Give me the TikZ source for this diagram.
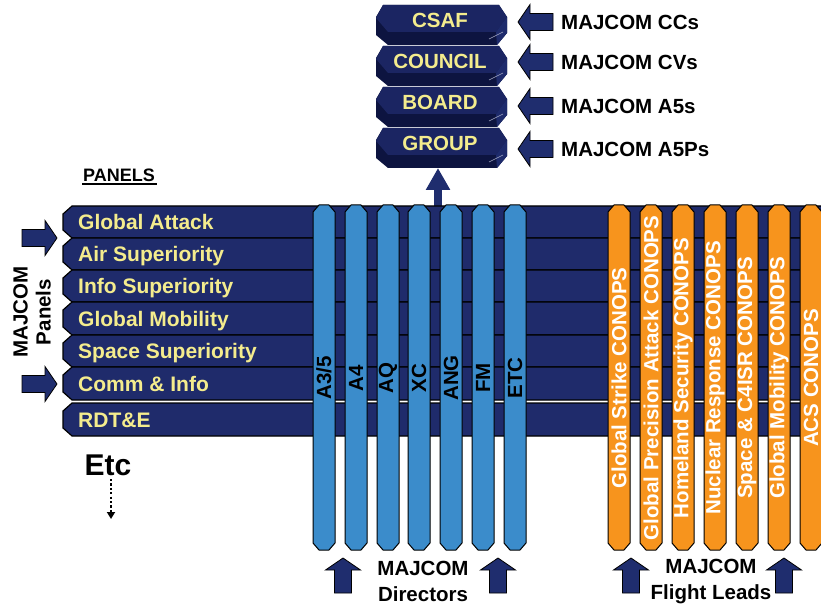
\documentclass[tikz,border=0pt]{standalone}
\usepackage{fontspec}
\setmainfont{Liberation Sans}
\usetikzlibrary{arrows.meta}
\definecolor{navy}{HTML}{1F2B6B}
\definecolor{anavy}{HTML}{1F2D6E}
\definecolor{boxdark}{HTML}{0D1440}
\definecolor{boxtop}{HTML}{1B2562}
\definecolor{boxside}{HTML}{1E2B6C}
\definecolor{lblue}{HTML}{3B8CCB}
\definecolor{orng}{HTML}{F7941D}
\definecolor{ylw}{HTML}{F4EC8D}
\tikzset{
  rowshape/.style={fill=navy, draw=black, line width=1.2pt},
  rowtxt/.style={text=ylw, font=\fontsize{21}{24}\selectfont\bfseries, anchor=base west, inner sep=0pt},
  bluebar/.style={fill=lblue, draw=black, line width=1pt},
  orgbar/.style={fill=orng, draw=black, line width=1pt},
  barlbl/.style={rotate=90, font=\fontsize{20.5}{24}\selectfont\bfseries, inner sep=0pt},
  boxlbl/.style={text=ylw, font=\fontsize{20.5}{24}\selectfont\bfseries, inner sep=0pt},
  blktxt/.style={text=black, font=\fontsize{20.5}{26}\selectfont\bfseries, inner sep=0pt},
  blk/.style={fill=anavy, draw=black, line width=0.8pt},
  blockarrow/.pic={\path[blk] (0,-8.5)--(23,-8.5)--(23,-17.5)--(35,0)--(23,17.5)--(23,8.5)--(0,8.5)--cycle;}
}
\newcommand\bbar[4]{% x, name, text, style
  \path[#4] (#1+6,205)--(#1+16,205)--(#1+22,212)--(#1+22,543)--(#1+16,550)--(#1+6,550)--(#1,543)--(#1,212)--cycle;
  \node[barlbl] (#2) at (#1+11,378) {#3};}
\newcommand\tbox[3]{% top, name, text
  \path[fill=boxdark] (383,#1)--(499,#1)--(507,#1+12)--(507,#1+28)--(497,#1+40)--(388,#1+40)--(376,#1+30)--(376,#1+12)--cycle;
  \path[fill=boxtop] (383,#1)--(499,#1)--(507,#1+12)--(496,#1+27)--(388,#1+27)--(376,#1+13)--cycle;
  \path[fill=boxside] (496,#1+27)--(507,#1+12)--(507,#1+28)--(497,#1+40)--cycle;
  \draw[white!60!boxside, line width=0.6pt] (489,#1+34)--(503,#1+27);
  \node[boxlbl] (#2) at (440,#1+15) {#3};}
\begin{document}
\begin{tikzpicture}[x=1pt,y=-1pt]
\useasboundingbox (0,0) rectangle (821,612);
\clip (0,0) rectangle (821,612);

% top boxes
\tbox{5}{csaf}{CSAF}
\tbox{46}{council}{COUNCIL}
\tbox{87}{board}{BOARD}
\tbox{128}{group}{GROUP}
\coordinate (groupbot) at (438,168);
\coordinate (rowtop) at (438,206);
\draw[anavy, line width=8pt, -{Triangle[width=23pt,length=22pt]}] (rowtop) -- (groupbot);

% right arrows and labels
\foreach \y/\n/\t in {22/cc/MAJCOM CCs, 62/cv/MAJCOM CVs, 106/afive/MAJCOM A5s, 149/afivep/MAJCOM A5Ps}{
  \pic[rotate=180] at (553,\y) {blockarrow};
  \node[blktxt, anchor=west] (\n) at (561,\y) {\t};
}

% PANELS
\node[font=\fontsize{18}{20}\selectfont\bfseries, inner sep=0pt] (panels) at (119,175) {PANELS};
\draw[line width=1.6pt] (82,184) -- (157,184);

% rows
\foreach \t/\b/\txt/\n in {206/238/Global Attack/r1, 238/270/Air Superiority/r2, 270/302/Info Superiority/r3, 302/335/Global Mobility/r4, 335/367/Space Superiority/r5, 367/400/Comm \& Info/r6, 403/436/RDT\&E/r7}{
  \path[rowshape] (72,\t) -- (830,\t) -- (830,\b) -- (72,\b) -- (63,\b-8) -- (63,\t+8) -- cycle;
  \node[rowtxt] (\n) at (78,{(\t+\b)/2+7.5}) {\txt};
}

% left arrows and label
\pic at (22,238) {blockarrow};
\pic at (22,384) {blockarrow};
\node[blktxt, rotate=90, align=center, font=\fontsize{20.5}{23}\selectfont\bfseries] (mpanels) at (32,312) {MAJCOM\\Panels};

% Etc
\node[font=\fontsize{30}{32}\selectfont\bfseries, inner sep=0pt] (etc) at (108,465) {Etc};
\coordinate (etcend) at (111,519);
\draw[line width=2.2pt, dash pattern=on 2.2pt off 2.2pt, -{Triangle[width=8pt,length=7pt]}] (111,479) -- (etcend);

% blue bars
\bbar{313}{a35}{A3/5}{bluebar}
\bbar{345}{a4}{A4}{bluebar}
\bbar{377}{aq}{AQ}{bluebar}
\bbar{408}{xc}{XC}{bluebar}
\bbar{440}{ang}{ANG}{bluebar}
\bbar{472}{fm}{FM}{bluebar}
\bbar{504}{etcb}{ETC}{bluebar}

% orange bars
\bbar{608}{o1}{\textcolor{white}{Global Strike CONOPS}}{orgbar}
\bbar{640}{o2}{\textcolor{white}{Global Precision Attack CONOPS}}{orgbar}
\bbar{672}{o3}{\textcolor{white}{Homeland Security CONOPS}}{orgbar}
\bbar{704}{o4}{\textcolor{white}{Nuclear Response CONOPS}}{orgbar}
\bbar{736}{o5}{\textcolor{white}{Space \& C4ISR CONOPS}}{orgbar}
\bbar{768}{o6}{\textcolor{white}{Global Mobility CONOPS}}{orgbar}
\bbar{800}{o7}{\textcolor{white}{ACS CONOPS}}{orgbar}

% bottom arrows and labels
\pic[rotate=90] at (343,593) {blockarrow};
\pic[rotate=90] at (498,593) {blockarrow};
\pic[rotate=90] at (631,593) {blockarrow};
\pic[rotate=90] at (784,593) {blockarrow};
\node[blktxt, align=center] (dirs) at (423,581) {MAJCOM\\Directors};
\node[blktxt, align=center] (fleads) at (711,582) {MAJCOM\\Flight Leads};
\end{tikzpicture}
\end{document}
